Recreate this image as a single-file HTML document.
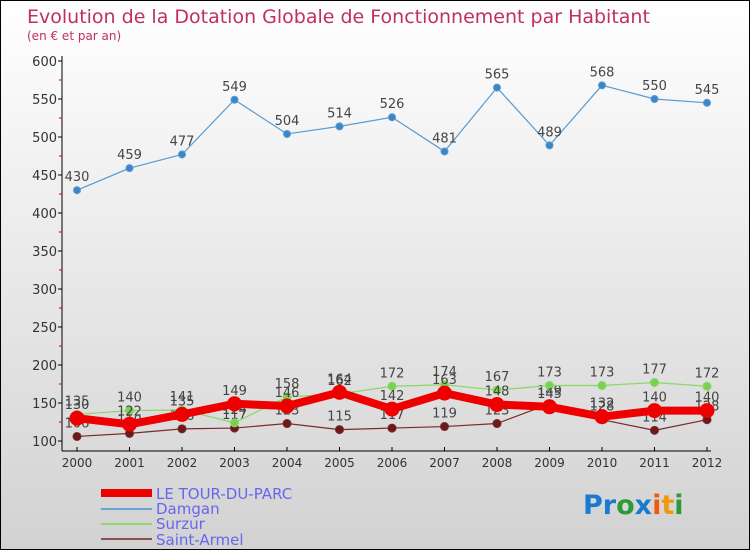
<!DOCTYPE html>
<html><head><meta charset="utf-8"><style>
body{margin:0}
#c{width:750px;height:550px;position:relative;box-sizing:border-box;border:1px solid #000;background:linear-gradient(#ffffff,#d2d2d2);font-family:"DejaVu Sans","Liberation Sans",sans-serif;overflow:hidden}
svg{position:absolute;left:0;top:0}
</style></head><body>
<div id="c">
<svg id="s" width="750" height="550">
<text x="26" y="22" font-size="19" fill="#c0305a">Evolution de la Dotation Globale de Fonctionnement par Habitant</text>
<text x="26" y="39" font-size="12" fill="#c0305a">(en € et par an)</text>
<g id="g"></g>
<g>
<rect x="100" y="488" width="51" height="8" fill="#ee0000"/>
<text x="155" y="498" font-size="15" fill="#6666ee">LE TOUR-DU-PARC</text>
<rect x="100" y="507" width="51" height="2" fill="#6aa6d0"/>
<text x="155" y="513" font-size="15" fill="#6666ee">Damgan</text>
<rect x="100" y="522" width="51" height="2" fill="#90d870"/>
<text x="155" y="528" font-size="15" fill="#6666ee">Surzur</text>
<rect x="100" y="537" width="51" height="2" fill="#8a5050"/>
<text x="155" y="544" font-size="15" fill="#6666ee">Saint-Armel</text>
</g>
<text x="582" y="513" font-size="27" font-weight="bold"><tspan fill="#1a7ad0">Pr</tspan><tspan fill="#2a9a3a">o</tspan><tspan fill="#1a7ad0">x</tspan><tspan fill="#f05a10">i</tspan><tspan fill="#f09a10">t</tspan><tspan fill="#2a9a3a">i</tspan></text>
</svg>
</div>
<script>
const years=[2000,2001,2002,2003,2004,2005,2006,2007,2008,2009,2010,2011,2012];
const yTicks=[100,150,200,250,300,350,400,450,500,550,600];
const tourDuParc=[130,122,135,149,146,164,142,163,148,145,132,140,140];
const damgan=[430,459,477,549,504,514,526,481,565,489,568,550,545];
const surzur=[135,140,141,124,158,162,172,174,167,173,173,177,172];
const saintArmel=[106,110,116,117,123,115,117,119,123,149,128,114,128];
const NS="http://www.w3.org/2000/svg";
const g=document.getElementById('g');
function X(i){return 76+i*52.5;}
function Y(v){return 440-(v-100)*0.76;}
function mk(t,a,p){const e=document.createElementNS(NS,t);for(const k in a)e.setAttribute(k,a[k]);(p||g).appendChild(e);return e;}
// axes
let e=mk('line',{x1:61,y1:55,x2:61,y2:450,stroke:'#000'});


e=mk('line',{x1:61,y1:450,x2:710,y2:450,stroke:'#000'});


yTicks.forEach(v=>{
 const y=Y(v);
 let t=mk('line',{x1:57,y1:y,x2:61,y2:y,stroke:'#000'});
 
 
 if(v<600){let m=mk('line',{x1:58,y1:Y(v+25),x2:61,y2:Y(v+25),stroke:'#d00'});
 
 }
 let l=mk('text',{x:56,y:y+5,'font-size':13,fill:'#333','text-anchor':'end'});l.textContent=v;
 
 
});
years.forEach((yr,i)=>{
 let t=mk('line',{x1:X(i),y1:446,x2:X(i),y2:450,stroke:'#000'});
 
 
 let l=mk('text',{x:X(i),y:466,'font-size':12,fill:'#333','text-anchor':'middle'});l.textContent=yr;
 
 
});
function series(vals,name,color,w,r,fill){
 const grp=mk('g',{});
 
 
 let p=mk('polyline',{points:vals.map((v,i)=>X(i)+','+Y(v)).join(' '),fill:'none',stroke:color,'stroke-width':w,'stroke-linejoin':'round'},grp);
 
 
 vals.forEach((v,i)=>{
  let c=mk('circle',{cx:X(i),cy:Y(v),r:r,fill:fill,stroke:color,'stroke-width':1},grp);
  
  
  let t=mk('text',{x:X(i),y:Y(v)-9,'font-size':13,fill:'#444','text-anchor':'middle'},grp);t.textContent=v;
  
  
 });
}
series(damgan,'damgan','#5a9ad0',1.2,3.5,'#3a86c8');
series(saintArmel,'saint-armel','#7a2a2a',1.2,4,'#6a1a1a');
series(surzur,'surzur','#88d868',1.2,4,'#7ad050');
series(tourDuParc,'le-tour-du-parc','#ee0000',8,7,'#ee0000');
</script>
</body></html>
